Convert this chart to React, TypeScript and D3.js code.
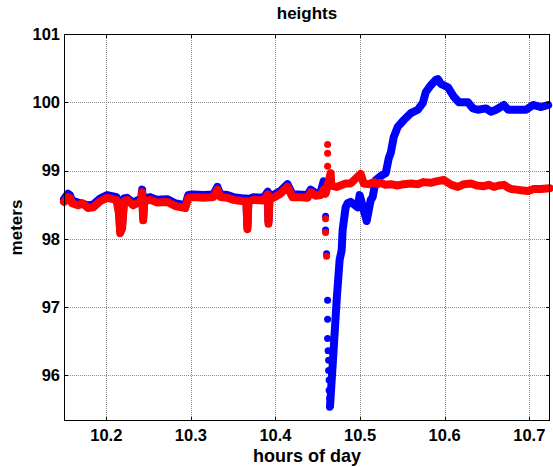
import React from "react";
import * as d3 from "d3";

const TITLE = "heights";
const X_LABEL = "hours of day";
const Y_LABEL = "meters";
const X_TICKS = [10.2, 10.3, 10.4, 10.5, 10.6, 10.7];
const Y_TICKS = [96, 97, 98, 99, 100, 101];
const X_DOMAIN = [10.15, 10.7245];
const Y_DOMAIN = [95.33, 101];

// red series (continuous part)
const redHours = [10.15, 10.1547, 10.157, 10.1595, 10.1666, 10.172, 10.1784, 10.1844, 10.1927, 10.2009, 10.2081, 10.212, 10.2152, 10.2164, 10.2187, 10.221, 10.2246, 10.2318, 10.2412, 10.2424, 10.2436, 10.2448, 10.2519, 10.2602, 10.272, 10.2815, 10.2934, 10.2969, 10.3028, 10.3147, 10.3265, 10.3313, 10.3348, 10.3431, 10.3502, 10.3621, 10.3656, 10.3668, 10.368, 10.3739, 10.3858, 10.391, 10.3917, 10.393, 10.3976, 10.4059, 10.4142, 10.4201, 10.4261, 10.4379, 10.4415, 10.4474, 10.4533, 10.4569, 10.4592, 10.4652, 10.466, 10.4723, 10.4829, 10.4889, 10.5007, 10.5043, 10.51, 10.5161, 10.5209, 10.5244, 10.53, 10.5363, 10.544, 10.5517, 10.56, 10.5683, 10.575, 10.5837, 10.59, 10.5991, 10.6014, 10.608, 10.6156, 10.623, 10.6311, 10.638, 10.6465, 10.652, 10.6583, 10.664, 10.6701, 10.6749, 10.6784, 10.685, 10.6903, 10.6986, 10.705, 10.714, 10.724];
const redMeters = [98.54, 98.61, 98.6, 98.52, 98.49, 98.52, 98.45, 98.46, 98.55, 98.6, 98.58, 98.57, 98.35, 98.08, 98.15, 98.55, 98.57, 98.49, 98.55, 98.68, 98.27, 98.55, 98.57, 98.53, 98.54, 98.48, 98.45, 98.6, 98.61, 98.6, 98.61, 98.72, 98.61, 98.6, 98.57, 98.55, 98.55, 98.14, 98.54, 98.57, 98.56, 98.65, 98.22, 98.6, 98.6, 98.66, 98.76, 98.61, 98.61, 98.6, 98.68, 98.63, 98.64, 98.72, 98.66, 98.96, 98.78, 98.76, 98.81, 98.81, 98.95, 98.81, 98.8, 98.83, 98.8, 98.82, 98.79, 98.8, 98.78, 98.8, 98.81, 98.8, 98.83, 98.82, 98.84, 98.86, 98.84, 98.79, 98.76, 98.8, 98.81, 98.78, 98.77, 98.79, 98.76, 98.78, 98.79, 98.75, 98.73, 98.72, 98.71, 98.7, 98.73, 98.73, 98.74];
// red scattered points near 10.46
const redDotHours = [10.4616, 10.4616, 10.4616, 10.4592, 10.4592, 10.4604];
const redDotMeters = [99.39, 99.26, 99.07, 98.3, 98.1, 97.75];

// blue series, part before the drop
const blueHoursA = [10.15, 10.1547, 10.157, 10.1595, 10.1666, 10.1784, 10.1844, 10.1927, 10.2009, 10.2081, 10.212, 10.2152, 10.2164, 10.2187, 10.221, 10.2246, 10.2318, 10.2412, 10.2424, 10.2436, 10.2448, 10.2519, 10.2602, 10.272, 10.2815, 10.2934, 10.2969, 10.3028, 10.3147, 10.3265, 10.3313, 10.3348, 10.3431, 10.3502, 10.3621, 10.3656, 10.3668, 10.368, 10.3739, 10.3858, 10.391, 10.3917, 10.393, 10.3976, 10.4059, 10.4142, 10.4201, 10.4261, 10.4379, 10.4415, 10.4474, 10.4533, 10.4569, 10.4592];
const blueMetersA = [98.58, 98.66, 98.64, 98.56, 98.53, 98.49, 98.5, 98.59, 98.64, 98.62, 98.61, 98.4, 98.12, 98.2, 98.59, 98.6, 98.53, 98.59, 98.72, 98.31, 98.59, 98.61, 98.57, 98.58, 98.52, 98.49, 98.64, 98.65, 98.64, 98.65, 98.76, 98.65, 98.64, 98.61, 98.59, 98.59, 98.18, 98.58, 98.61, 98.6, 98.69, 98.26, 98.64, 98.64, 98.7, 98.8, 98.65, 98.65, 98.64, 98.72, 98.67, 98.68, 98.84, 98.72];
// blue scattered points during the drop
const blueDotHours = [10.4592, 10.4592, 10.4604, 10.4616, 10.4616, 10.4616, 10.4622, 10.4628, 10.4628, 10.4634, 10.4634, 10.464, 10.464];
const blueDotMeters = [98.33, 98.13, 97.78, 97.1, 96.82, 96.54, 96.36, 96.22, 96.07, 95.93, 95.78, 95.66, 95.53];
// blue series, recovery part
const blueHoursB = [10.4645, 10.4687, 10.4723, 10.4758, 10.4782, 10.4794, 10.4829, 10.4853, 10.4889, 10.4912, 10.4972, 10.4995, 10.5078, 10.5126, 10.5149, 10.5185, 10.5244, 10.5303, 10.5339, 10.5363, 10.5398, 10.5445, 10.5517, 10.56, 10.5683, 10.5742, 10.5777, 10.5837, 10.5896, 10.592, 10.5955, 10.6038, 10.6109, 10.6168, 10.6275, 10.6334, 10.6393, 10.6488, 10.6547, 10.6607, 10.6701, 10.6749, 10.682, 10.6879, 10.6962, 10.7045, 10.714, 10.7223];
const blueMetersB = [95.55, 96.37, 97.1, 97.69, 97.83, 98.13, 98.46, 98.52, 98.54, 98.52, 98.46, 98.64, 98.26, 98.57, 98.61, 98.86, 98.92, 98.96, 99.18, 99.26, 99.49, 99.64, 99.74, 99.84, 99.89, 99.99, 100.15, 100.25, 100.33, 100.34, 100.27, 100.22, 100.08, 100.0, 100.0, 99.91, 99.89, 99.91, 99.86, 99.89, 99.96, 99.89, 99.89, 99.89, 99.89, 99.96, 99.93, 99.96];

const W = 553;
const H = 467;
const M = { left: 64, right: 550, top: 34, bottom: 421 };
const FONT = "'Liberation Sans', Arial, Helvetica, sans-serif";
const BLUE = "#0000ff";
const RED = "#ff0000";
const DOT = 8;

export default function App() {
  const x = d3.scaleLinear().domain(X_DOMAIN).range([M.left, M.right]);
  const y = d3.scaleLinear().domain(Y_DOMAIN).range([M.bottom, M.top]);
  const line = d3
    .line<[number, number]>()
    .x((d) => x(d[0]))
    .y((d) => y(d[1]));
  const zip = (a: number[], b: number[]) => a.map((v, i) => [v, b[i]] as [number, number]);
  const red = zip(redHours, redMeters);
  const redDots = zip(redDotHours, redDotMeters);
  const blueA = zip(blueHoursA, blueMetersA);
  const blueB = zip(blueHoursB, blueMetersB);
  const blueDots = zip(blueDotHours, blueDotMeters);
  const px = (v: number) => Math.round(v) + 0.5;
  const tickLen = 4;

  return (
    <svg
      width={W}
      height={H}
      style={{ position: "absolute", left: 0, top: 0, background: "#fff" }}
      fontFamily={FONT}
    >
      <rect x={0} y={0} width={W} height={H} fill="#fff" />
      {/* grid */}
      <g stroke="#8c8c8c" strokeWidth={1} strokeDasharray="1,1">
        {X_TICKS.map((t) => (
          <line key={"gx" + t} x1={px(x(t))} x2={px(x(t))} y1={M.top} y2={M.bottom} />
        ))}
        {Y_TICKS.map((t) => (
          <line key={"gy" + t} x1={M.left} x2={M.right} y1={px(y(t))} y2={px(y(t))} />
        ))}
      </g>
      {/* data */}
      <g fill="none" strokeLinecap="round" strokeLinejoin="round" strokeWidth={DOT}>
        <path d={line(blueA) || ""} stroke={BLUE} />
        <path d={line(blueB) || ""} stroke={BLUE} />
      </g>
      {blueDots.map((d, i) => (
        <circle key={"bd" + i} cx={x(d[0])} cy={y(d[1])} r={3.5} fill={BLUE} />
      ))}
      {redDots.map((d, i) => (
        <circle key={"rd" + i} cx={x(d[0])} cy={y(d[1]) + 0.5} r={3.5} fill={RED} />
      ))}
      <path
        d={line(red) || ""}
        stroke={RED}
        fill="none"
        strokeLinecap="round"
        strokeLinejoin="round"
        strokeWidth={DOT}
      />
      {/* box */}
      <rect
        x={M.left + 0.5}
        y={M.top + 0.5}
        width={M.right - M.left - 1}
        height={M.bottom - M.top - 1}
        fill="none"
        stroke="#000"
        strokeWidth={1}
      />
      {/* ticks */}
      <g stroke="#000" strokeWidth={1}>
        {X_TICKS.map((t) => (
          <g key={"tx" + t}>
            <line x1={px(x(t))} x2={px(x(t))} y1={M.bottom} y2={M.bottom - tickLen} />
            <line x1={px(x(t))} x2={px(x(t))} y1={M.top} y2={M.top + tickLen} />
          </g>
        ))}
        {Y_TICKS.map((t) => (
          <g key={"ty" + t}>
            <line x1={M.left} x2={M.left + tickLen} y1={px(y(t))} y2={px(y(t))} />
            <line x1={M.right} x2={M.right - tickLen} y1={px(y(t))} y2={px(y(t))} />
          </g>
        ))}
      </g>
      {/* tick labels */}
      <g fontSize={16.5} fontWeight="bold" fill="#000">
        {X_TICKS.map((t) => (
          <text key={"lx" + t} x={x(t)} y={M.bottom + 20} textAnchor="middle">
            {t.toFixed(1)}
          </text>
        ))}
        {Y_TICKS.map((t) => (
          <text key={"ly" + t} x={M.left - 4} y={y(t)} dy="0.35em" textAnchor="end">
            {t}
          </text>
        ))}
      </g>
      <text x={(M.left + M.right) / 2} y={19} textAnchor="middle" fontSize={17} fontWeight="bold">
        {TITLE}
      </text>
      <text x={(M.left + M.right) / 2} y={462} textAnchor="middle" fontSize={18} fontWeight="bold">
        {X_LABEL}
      </text>
      <text
        transform={`translate(22,${(M.top + M.bottom) / 2}) rotate(-90)`}
        textAnchor="middle"
        fontSize={17}
        fontWeight="bold"
      >
        {Y_LABEL}
      </text>
    </svg>
  );
}
